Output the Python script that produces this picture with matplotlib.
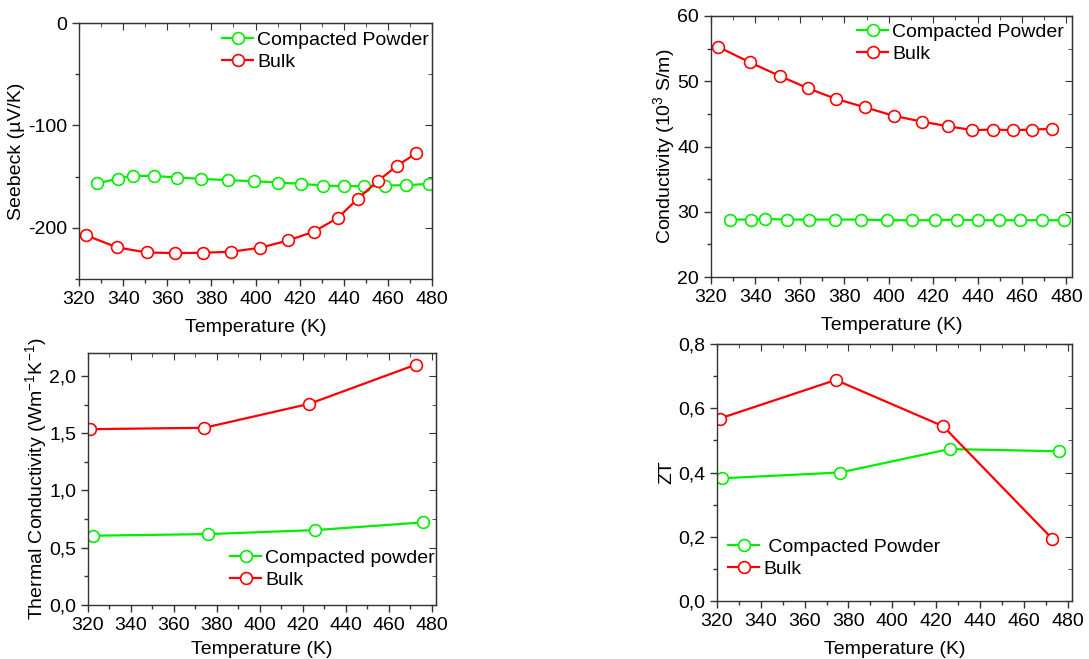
import matplotlib
matplotlib.use("Agg")
import matplotlib.pyplot as plt
from matplotlib.ticker import MultipleLocator, FuncFormatter

plt.rcParams['font.family'] = ['Liberation Sans', 'DejaVu Sans']
plt.rcParams['font.size'] = 14
plt.rcParams['axes.unicode_minus'] = False
plt.rcParams['mathtext.fontset'] = 'custom'
plt.rcParams['mathtext.rm'] = 'Liberation Sans'
plt.rcParams['mathtext.it'] = 'Liberation Sans:italic'
plt.rcParams['mathtext.bf'] = 'Liberation Sans:bold'

# Seebeck (uV/K)
seebeck_powder_T = [328.3, 337.8, 344.3, 354.0, 364.2, 375.5, 387.4, 399.4,
                    410.4, 420.7, 430.4, 439.9, 449.3, 458.8, 468.4, 478.5]
seebeck_powder = [-156.7, -151.9, -149.3, -149.3, -150.9, -152.2, -153.5, -154.5,
                  -155.8, -157.1, -158.7, -159.3, -159.3, -158.7, -158.4, -157.1]
seebeck_bulk_T = [323.0, 337.4, 350.7, 363.7, 376.0, 389.0, 402.1, 414.7,
                  426.3, 437.4, 446.3, 455.4, 464.1, 472.9]
seebeck_bulk = [-207.2, -219.2, -224.1, -224.7, -224.4, -223.4, -219.5, -212.4,
                -203.9, -190.2, -171.7, -154.5, -139.5, -127.2]

# Electrical conductivity (10^3 S/m)
cond_powder_T = [328.5, 338.0, 344.3, 354.0, 364.1, 375.6, 387.6, 399.3,
                 410.7, 420.9, 430.8, 440.2, 449.6, 459.1, 468.9, 478.8]
cond_powder = [28.8, 28.8, 28.9, 28.8, 28.8, 28.8, 28.8, 28.7,
               28.7, 28.7, 28.8, 28.7, 28.7, 28.7, 28.7, 28.7]
cond_bulk_T = [323.0, 337.5, 351.0, 363.8, 376.2, 389.4, 402.3, 415.1,
               426.8, 437.7, 447.0, 456.0, 464.7, 473.4]
cond_bulk = [55.3, 52.9, 50.8, 48.9, 47.3, 46.0, 44.7, 43.8,
             43.1, 42.5, 42.6, 42.5, 42.6, 42.7]

# Thermal conductivity (W m^-1 K^-1)
kappa_powder_T = [322.3, 375.9, 425.9, 475.8]
kappa_powder = [0.605, 0.619, 0.654, 0.721]
kappa_bulk_T = [321.1, 374.1, 423.0, 472.7]
kappa_bulk = [1.535, 1.547, 1.756, 2.099]

# ZT
zt_powder_T = [322.3, 376.2, 426.1, 476.2]
zt_powder = [0.382, 0.400, 0.473, 0.466]
zt_bulk_T = [321.2, 374.2, 423.2, 473.1]
zt_bulk = [0.568, 0.688, 0.544, 0.193]

GREEN = '#00ee00'
RED = '#ff0000'
W, H = 1089, 659


def px_axes(fig, left, top, right, bottom):
    return fig.add_axes([left / W, 1 - bottom / H, (right - left) / W, (bottom - top) / H])


def style(ax, ymajor, yminor, xpad=8):
    ax.xaxis.set_major_locator(MultipleLocator(20))
    ax.xaxis.set_minor_locator(MultipleLocator(10))
    ax.yaxis.set_major_locator(MultipleLocator(ymajor))
    ax.yaxis.set_minor_locator(MultipleLocator(yminor))
    ax.tick_params(which='both', direction='out', labelsize=14, width=1, color='#333333')
    ax.tick_params(which='major', length=5)
    ax.tick_params(which='minor', length=3)
    for s in ax.spines.values():
        s.set_linewidth(1)
        s.set_color('#333333')
    # mirrored inward ticks on top / right
    top = ax.secondary_xaxis('top')
    top.xaxis.set_major_locator(MultipleLocator(20))
    top.xaxis.set_minor_locator(MultipleLocator(10))
    top.tick_params(which='both', direction='in', labeltop=False, color='#333333')
    top.tick_params(which='major', length=5)
    top.tick_params(which='minor', length=3)
    right = ax.secondary_yaxis('right')
    right.yaxis.set_major_locator(MultipleLocator(ymajor))
    right.yaxis.set_minor_locator(MultipleLocator(yminor))
    right.tick_params(which='both', direction='in', labelright=False, color='#333333')
    right.tick_params(which='major', length=5)
    right.tick_params(which='minor', length=3)
    ax.set_xlabel('Temperature (K)', fontsize=14, labelpad=xpad)


def plot_pair(ax, t1, y1, l1, t2, y2, l2):
    ax.plot(t1, y1, '-o', color=GREEN, lw=1.6, ms=8.5, mfc='white', mec=GREEN, mew=1.2, label=l1)
    ax.plot(t2, y2, '-o', color=RED, lw=1.6, ms=8.5, mfc='white', mec=RED, mew=1.2, label=l2)


def add_legend(ax, fig, x, y):
    ax.legend(loc='upper left', bbox_to_anchor=(x / W, 1 - y / H), bbox_transform=fig.transFigure,
              frameon=False, fontsize=14, handlelength=1.6, handletextpad=0.2, labelspacing=0.25,
              borderpad=0, borderaxespad=0)


comma = FuncFormatter(lambda v, p: ('%.1f' % v).replace('.', ','))

fig = plt.figure(figsize=(W / 100, H / 100), dpi=100)

# Seebeck
ax1 = px_axes(fig, 79, 23, 432, 279)
plot_pair(ax1, seebeck_powder_T, seebeck_powder, 'Compacted Powder',
          seebeck_bulk_T, seebeck_bulk, 'Bulk')
ax1.set_xlim(320, 480)
ax1.set_ylim(-250, 0)
style(ax1, 100, 50)
ax1.set_ylabel('Seebeck (µV/K)', fontsize=14, labelpad=2)
add_legend(ax1, fig, 222, 31)

# Conductivity
ax2 = px_axes(fig, 711, 16, 1072, 277)
plot_pair(ax2, cond_powder_T, cond_powder, 'Compacted Powder',
          cond_bulk_T, cond_bulk, 'Bulk')
ax2.set_xlim(320, 482.5)
ax2.set_ylim(20, 60)
style(ax2, 10, 5)
ax2.set_ylabel('Conductivity (10$^3$ S/m)', fontsize=14, labelpad=0)
add_legend(ax2, fig, 857, 23)

# Thermal conductivity
ax3 = px_axes(fig, 88, 353, 436, 605)
plot_pair(ax3, kappa_powder_T, kappa_powder, 'Compacted powder',
          kappa_bulk_T, kappa_bulk, 'Bulk')
ax3.set_xlim(320, 482)
ax3.set_ylim(0, 2.2)
style(ax3, 0.5, 0.25, xpad=5)
ax3.yaxis.set_major_formatter(comma)
ax3.set_ylabel('Thermal Conductivity (Wm$^{-1}$K$^{-1}$)', fontsize=14, labelpad=0)
add_legend(ax3, fig, 230, 549)

# ZT
ax4 = px_axes(fig, 717, 344, 1072, 601)
plot_pair(ax4, zt_powder_T, zt_powder, ' Compacted Powder',
          zt_bulk_T, zt_bulk, 'Bulk')
ax4.set_xlim(320, 482)
ax4.set_ylim(0, 0.8)
style(ax4, 0.2, 0.1)
ax4.yaxis.set_major_formatter(comma)
ax4.set_ylabel('ZT', fontsize=14, labelpad=2)
add_legend(ax4, fig, 728, 538)

fig.savefig('out.png', dpi=100)
